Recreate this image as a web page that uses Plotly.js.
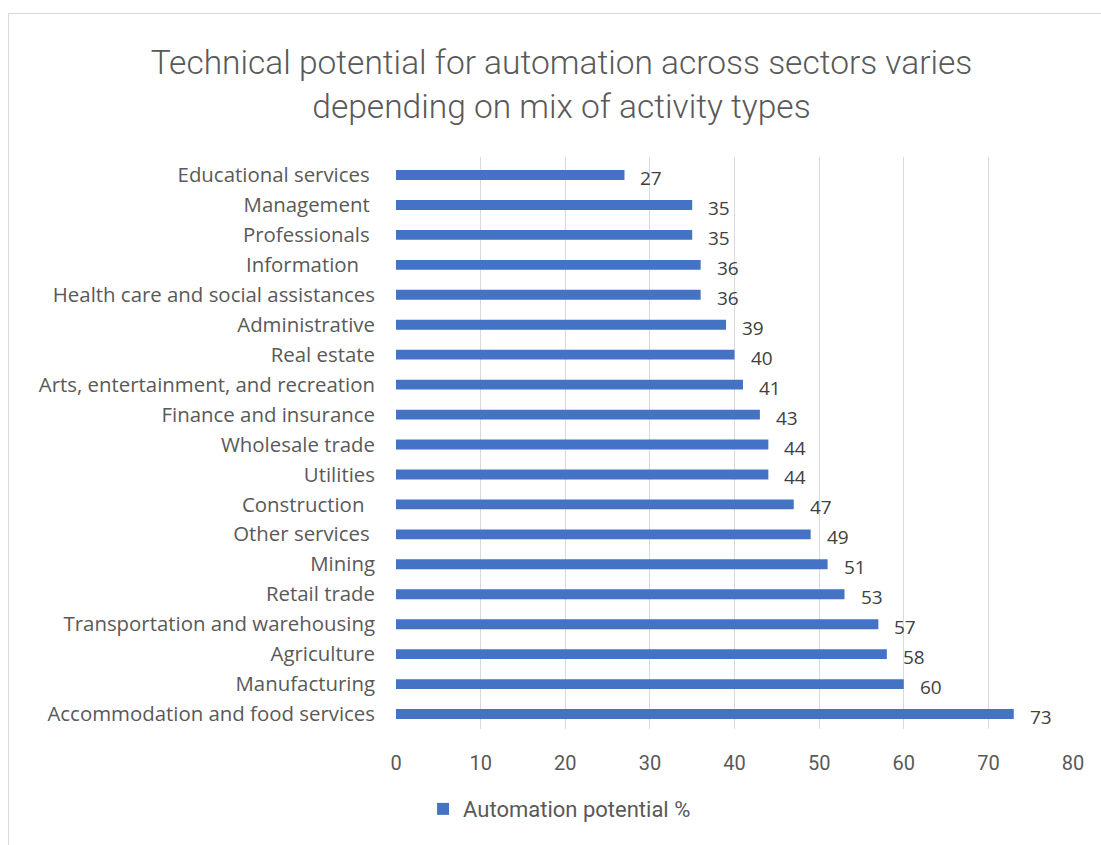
<!DOCTYPE html>
<html>
<head>
<meta charset="utf-8">
<script src="https://cdn.plot.ly/plotly-3.0.1.min.js"></script>
<style>
  html, body { margin: 0; padding: 0; background: #fff; }
  #wrap { position: relative; width: 1101px; height: 845px; }
  #chart { position: absolute; left: 0; top: 0; width: 1101px; height: 845px; }
  #frame { position: absolute; left: 8px; top: 13px; width: 1110px; height: 900px;
           border: 1px solid #d9d9d9; pointer-events: none; z-index: 5; }
</style>
</head>
<body>
<div id="wrap">
  <div id="chart"></div>
  <div id="frame"></div>
</div>
<script>
const categories = [
  "Educational services\u00a0",
  "Management\u00a0",
  "Professionals\u00a0",
  "Information\u00a0\u00a0\u00a0",
  "Health care and social assistances",
  "Administrative",
  "Real estate",
  "Arts, entertainment, and recreation",
  "Finance and insurance",
  "Wholesale trade",
  "Utilities",
  "Construction\u00a0\u00a0",
  "Other services\u00a0",
  "Mining",
  "Retail trade",
  "Transportation and warehousing",
  "Agriculture",
  "Manufacturing",
  "Accommodation and food services"
];
const values = [27, 35, 35, 36, 36, 39, 40, 41, 43, 44, 44, 47, 49, 51, 53, 57, 58, 60, 73];
const seriesName = "Automation potential %";
const xTicks = [0, 10, 20, 30, 40, 50, 60, 70, 80];
const titleText = "Technical potential for automation across sectors varies<br>depending on mix of activity types";

const narrow = "Roboto, Open Sans, sans-serif";
const wide = "Open Sans, Noto Sans, sans-serif";

const trace = {
  type: "bar",
  orientation: "h",
  y: categories,
  x: values,
  name: seriesName,
  width: 0.33,
  marker: { color: "#4472C4" },
  hoverinfo: "x+y",
  showlegend: true
};

const annotations = values.map((v, i) => ({
  x: v, y: categories[i], xref: "x", yref: "y",
  text: String(v), showarrow: false,
  xanchor: "left", yanchor: "middle",
  xshift: 14, yshift: -3,
  font: { family: wide, size: 19, color: "#404040" }
}));

const layout = {
  width: 1101, height: 845,
  paper_bgcolor: "#ffffff", plot_bgcolor: "#ffffff",
  margin: { l: 396, r: 28, t: 157, b: 116 },
  title: {
    text: titleText,
    font: { family: narrow, size: 33.5, color: "#595959", weight: 300 },
    x: 0.51, xref: "container", xanchor: "center",
    y: 0.912, yref: "container", yanchor: "top"
  },
  xaxis: {
    range: [0, 80],
    tickvals: xTicks,
    ticktext: xTicks.map(String),
    showgrid: true, gridcolor: "#d9d9d9", gridwidth: 1,
    zeroline: false, showline: false,
    ticks: "", ticklabelstandoff: 20,
    tickfont: { family: narrow, size: 20, color: "#595959" },
    fixedrange: true
  },
  yaxis: {
    type: "category",
    autorange: "reversed",
    showgrid: false, zeroline: false, showline: false,
    ticks: "", ticklabelstandoff: 20,
    tickfont: { family: wide, size: 20.4, color: "#595959" },
    fixedrange: true
  },
  showlegend: true,
  legend: {
    orientation: "h",
    x: 0.04, xanchor: "left",
    y: -0.14, yanchor: "middle",
    font: { family: narrow, size: 22, color: "#595959" },
    itemwidth: 30
  },
  annotations: annotations,
  bargap: 0.67
};

Plotly.newPlot("chart", [trace], layout, { displayModeBar: false, staticPlot: false });
</script>
</body>
</html>
